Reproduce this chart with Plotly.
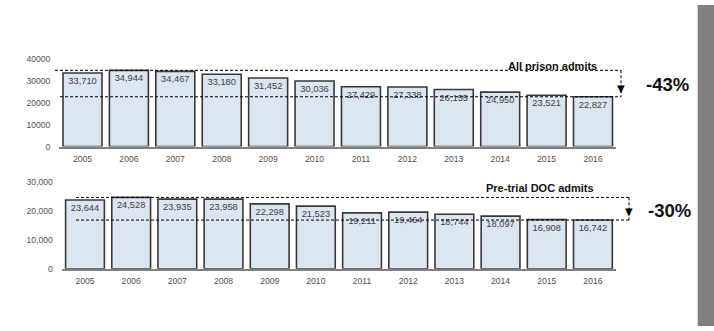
import plotly.graph_objects as go

years = ["2005", "2006", "2007", "2008", "2009", "2010", "2011", "2012", "2013", "2014", "2015", "2016"]
all_prison = [33710, 34944, 34467, 33180, 31452, 30036, 27429, 27338, 26155, 24950, 23521, 22827]
pretrial = [23644, 24528, 23935, 23958, 22298, 21523, 19211, 19464, 18744, 18097, 16908, 16742]
top_title = "All prison admits"
bottom_title = "Pre-trial DOC admits"
top_change = "-43%"
bottom_change = "-30%"
top_ticks = [0, 10000, 20000, 30000, 40000]
bottom_ticks = [0, 10000, 20000, 30000]

W, H = 714, 331
def px(x):
    return x / W
def py(y):
    return 1 - y / H

BAR_FILL = "#DCE6F2"
BAR_LINE = "#383838"
TXT = "#404040"
TICK_FONT = dict(family="Liberation Sans, Arial", size=8.6, color="#505050")

fig = go.Figure()
fig.add_trace(go.Bar(
    x=years, y=all_prison, xaxis="x", yaxis="y",
    marker=dict(color=BAR_FILL, line=dict(color=BAR_LINE, width=1.6)),
    text=[f"{v:,}" for v in all_prison], textposition="inside",
    insidetextanchor="end", textangle=0,
    textfont=dict(family="Liberation Sans, Arial", size=9.3, color=TXT),
    showlegend=False, hoverinfo="skip",
))
fig.add_trace(go.Bar(
    x=years, y=pretrial, xaxis="x2", yaxis="y2",
    marker=dict(color=BAR_FILL, line=dict(color=BAR_LINE, width=1.6)),
    text=[f"{v:,}" for v in pretrial], textposition="inside",
    insidetextanchor="end", textangle=0,
    textfont=dict(family="Liberation Sans, Arial", size=9.3, color=TXT),
    showlegend=False, hoverinfo="skip",
))

xcommon = dict(type="category", showgrid=False, showline=True, linecolor="#7f7f7f",
               linewidth=2, ticks="", tickfont=TICK_FONT, ticklabelstandoff=3,
               zeroline=False, fixedrange=True)
ycommon = dict(showgrid=False, showline=False, zeroline=False, ticks="",
               tickfont=TICK_FONT, ticklabelstandoff=8, fixedrange=True)

fig.update_layout(
    width=W, height=H, margin=dict(l=0, r=0, t=0, b=0),
    paper_bgcolor="white", plot_bgcolor="rgba(0,0,0,0)",
    bargap=0.16,
    xaxis=dict(domain=[px(59.3), px(616.2)], anchor="y", **xcommon),
    yaxis=dict(domain=[py(146), py(56)], anchor="x", range=[0, 40000],
               tickvals=top_ticks, ticktext=[str(v) for v in top_ticks], **ycommon),
    xaxis2=dict(domain=[px(61.9), px(616)], anchor="y2", **xcommon),
    yaxis2=dict(domain=[py(272), py(182)], anchor="x2", range=[0, 30000],
                tickvals=bottom_ticks, ticktext=[f"{v:,}" for v in bottom_ticks], **ycommon),
)

dash = dict(color="#000000", width=1, dash="3px,2px")
shapes = []
# gray strip on the right
shapes.append(dict(type="rect", xref="paper", yref="paper", x0=px(697.7), x1=1, y0=0, y1=1,
                   fillcolor="#808080", line=dict(width=0), layer="below"))
# top reference lines
t_hi, t_lo = max(all_prison), all_prison[-1]
shapes.append(dict(type="line", xref="paper", yref="y", x0=px(55), x1=px(621), y0=t_hi, y1=t_hi, line=dash))
shapes.append(dict(type="line", xref="paper", yref="y", x0=px(60), x1=px(621), y0=t_lo, y1=t_lo, line=dash))
shapes.append(dict(type="line", xref="paper", yref="y", x0=px(621), x1=px(621), y0=t_hi, y1=t_lo, line=dash))
# bottom reference lines
b_hi, b_lo = max(pretrial), pretrial[-1]
shapes.append(dict(type="line", xref="paper", yref="y2", x0=px(76), x1=px(629), y0=b_hi, y1=b_hi, line=dash))
shapes.append(dict(type="line", xref="paper", yref="y2", x0=px(76), x1=px(629), y0=b_lo, y1=b_lo, line=dash))
shapes.append(dict(type="line", xref="paper", yref="y2", x0=px(629), x1=px(629), y0=b_hi, y1=b_lo, line=dash))
fig.update_layout(shapes=shapes)

ann = []
ann.append(dict(text="<b>" + top_title + "</b>", xref="paper", yref="paper", x=px(552), y=py(63), showarrow=False,
                font=dict(family="Liberation Sans, Arial", size=11, color="#111111"),
                xanchor="center", yanchor="middle"))
ann.append(dict(text="<b>" + bottom_title + "</b>", xref="paper", yref="paper", x=px(540), y=py(189), showarrow=False,
                font=dict(family="Liberation Sans, Arial", size=11, color="#111111"),
                xanchor="center", yanchor="middle"))
ann.append(dict(text="<b>" + top_change + "</b>", xref="paper", yref="paper", x=px(667), y=py(82), showarrow=False,
                font=dict(family="Liberation Sans, Arial", size=18.5, color="#111111"),
                xanchor="center", yanchor="middle"))
ann.append(dict(text="<b>" + bottom_change + "</b>", xref="paper", yref="paper", x=px(669), y=py(212), showarrow=False,
                font=dict(family="Liberation Sans, Arial", size=18.5, color="#111111"),
                xanchor="center", yanchor="middle"))
ann.append(dict(text="▼", xref="paper", yref="y", x=px(621), y=t_lo, showarrow=False,
                font=dict(family="DejaVu Sans", size=10, color="#000000"),
                xanchor="center", yanchor="bottom", yshift=1))
ann.append(dict(text="▼", xref="paper", yref="y2", x=px(629), y=b_lo, showarrow=False,
                font=dict(family="DejaVu Sans", size=10, color="#000000"),
                xanchor="center", yanchor="bottom", yshift=1))
fig.update_layout(annotations=ann)

fig.write_html("out.html")
